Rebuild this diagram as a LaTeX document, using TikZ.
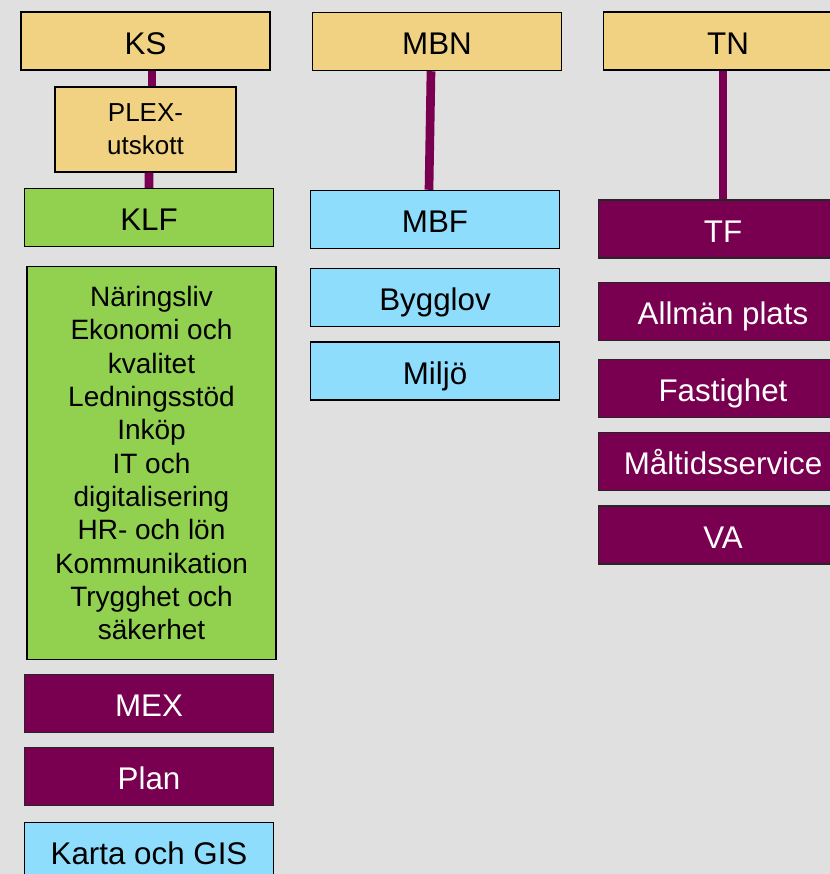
\documentclass[tikz,border=0pt]{standalone}
\usepackage{fontspec}
\setmainfont{Liberation Sans}
\usetikzlibrary{positioning}

\definecolor{bggray}{HTML}{E0E0E0}
\definecolor{boardtan}{HTML}{F0D282}
\definecolor{officegreen}{HTML}{92D050}
\definecolor{unitblue}{HTML}{8FDDFC}
\definecolor{deptpurple}{HTML}{790050}

\begin{document}
\begin{tikzpicture}[x=0.75pt, y=-0.75pt, font=\fontsize{23.5}{28}\selectfont,
    box/.style={draw, line width=1.1pt, minimum width=187pt, minimum height=43.5pt, inner sep=0pt, align=center},
    oneline/.style={box, text height=19.7pt, text depth=0pt},
    board/.style={oneline, fill=boardtan},
    office/.style={oneline, fill=officegreen},
    unit/.style={oneline, fill=unitblue},
    dept/.style={oneline, fill=deptpurple, draw=black!85, text=white},
    link/.style={draw=deptpurple, line width=6.5pt}]

\fill[bggray] (0,0) rectangle (830,874);
\useasboundingbox (0,0) rectangle (830,874);

% KS column
\begin{scope}
    \node[board] (ks) at (145.5,41) {KS};
    \node[box, fill=boardtan, minimum width=135.5pt, minimum height=63.5pt,
          font=\fontsize{19.5}{25}\selectfont] (plex) at (145.5,129.5) {PLEX-\\utskott};
    \node[office] (klf) at (149,217.5) {KLF};
    \node[box, fill=officegreen, minimum height=295pt, font=\fontsize{21}{25}\selectfont] (staff) at (151.5,463)
        {N\"aringsliv\\Ekonomi och\\kvalitet\\Ledningsst\"od\\Ink\"op\\IT och\\digitalisering\\HR- och l\"on\\Kommunikation\\Trygghet och\\s\"akerhet};
    \node[dept] (mex) at (149,703.5) {MEX};
    \node[dept] (plan) at (149,776.5) {Plan};
    \node[unit] (gis) at (149,851.5) {Karta och GIS};
\end{scope}

% MBN column
\begin{scope}
    \node[board] (mbn) at (437,41.5) {MBN};
    \node[unit] (mbf) at (435,219.5) {MBF};
    \node[unit] (bygg) at (435,297.5) {Bygglov};
    \node[unit] (miljo) at (435,371) {Milj\"o};
\end{scope}

% TN column
\begin{scope}
    \node[board] (tn) at (728,41) {TN};
    \node[dept] (tf) at (723,229) {TF};
    \node[dept] (allman) at (723,311.5) {Allm\"an plats};
    \node[dept] (fast) at (723,388.5) {Fastighet};
    \node[dept] (malt) at (723,461.5) {M\aa ltidsservice};
    \node[dept] (va) at (723,535) {VA};
\end{scope}

\draw[link] ([xshift=4.9pt]ks.south) -- ([xshift=4.9pt]plex.north);
\draw[link] ([xshift=2.6pt]plex.south) -- (klf.north);
\draw[link] ([xshift=-4.5pt]mbn.south) -- ([xshift=-4.5pt]mbf.north);
\draw[link] ([xshift=-3.75pt]tn.south) -- (tf.north);

\end{tikzpicture}
\end{document}
